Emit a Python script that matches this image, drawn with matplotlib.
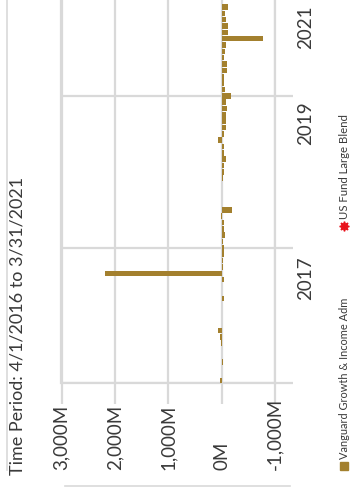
import numpy as np
import pandas as pd
import matplotlib
matplotlib.use("Agg")
import matplotlib.pyplot as plt
from matplotlib.lines import Line2D
from matplotlib.transforms import blended_transform_factory

# Monthly net flows, in millions of dollars (Apr 2016 .. Mar 2021)
months = pd.period_range("2016-04", "2021-03", freq="M")
flows_m = [
    30, -12, -6, -19, -12, -6, 19, 37, 65, -6,
    -6, -6, -6, -50, -12, -12, -37, 2190, -19, -19,
    -37, -37, -19, -56, -37, -37, 19, -187, -6, -6,
    -12, -12, -20, -37, -50, -75, -37, -37, 75, -50,
    -75, -75, -75, -94, -75, -175, -62, -50, -50, -94,
    -94, -37, -62, -75, -775, -112, -112, -75, -62, -112,
]

value_ticks = [3000, 2000, 1000, 0, -1000]
value_labels = ["3,000M", "2,000M", "1,000M", "0M", "-1,000M"]
year_labels = ["2017", "2019", "2021"]
grid_months = ["2018-01", "2020-01"]
title = "Time Period: 4/1/2016 to 3/31/2021"
series_name = "Vanguard Growth & Income Adm"
benchmark_name = "US Fund Large Blend"

W, H = 351, 487
BAR = "#A3802E"
GRID = "#D9D9D9"
TXT = "#3A3A3A"
FONT = "Lato"

plt.rcParams["font.family"] = [FONT, "DejaVu Sans"]


def fx(px):
    return px / W


def fy(py):
    return 1 - py / H


fig = plt.figure(figsize=(W / 100, H / 100), dpi=100)
fig.patch.set_facecolor("white")

# plot area (rotated layout: time runs upward, values run leftward)
ax = fig.add_axes([fx(61.5), fy(383), fx(275) - fx(61.5), fy(0) - fy(383)])
ypos = np.arange(len(months))
ax.barh(ypos, flows_m, height=0.88, color=BAR, zorder=3)

y_lo, y_hi = -0.3, 60.1
ax.set_xlim(3000, -1000)
ax.set_ylim(y_lo, y_hi)

# value gridlines with outward tick marks below the plot
ax.set_xticks(value_ticks)
ax.tick_params(axis="x", length=15, width=1.6, color=GRID, direction="out",
               labelbottom=False)
ax.grid(axis="x", color=GRID, lw=1.6, zorder=0)

# time gridlines with tick marks on the right
grid_pos = [months.get_loc(pd.Period(m, freq="M")) for m in grid_months]
ax.yaxis.tick_right()
ax.set_yticks([y_lo] + grid_pos)
ax.tick_params(axis="y", length=13, width=1.6, color=GRID, direction="out",
               labelright=False, labelleft=False)
ax.grid(axis="y", color=GRID, lw=1.6, zorder=0)

ax.spines["top"].set_visible(False)
for side in ("left", "right", "bottom"):
    ax.spines[side].set_color(GRID)
    ax.spines[side].set_linewidth(1.6)
    ax.spines[side].set_zorder(1)

# value labels, reading bottom to top
tr_x = blended_transform_factory(ax.transData, fig.transFigure)
for v, lab in zip(value_ticks, value_labels):
    ax.text(v, fy(470), lab, transform=tr_x, rotation=90, ha="center",
            va="bottom", fontsize=13.5, color=TXT)

# year labels on the right
tr_y = blended_transform_factory(fig.transFigure, ax.transData)
for pos, lab in zip([16.2, 40.7, 55.8], year_labels):
    ax.text(fx(306), pos, lab, transform=tr_y, rotation=90, ha="center",
            va="center", fontsize=13.5, color=TXT)

# title
fig.text(fx(18), fy(475), title, rotation=90, ha="center", va="bottom",
         fontsize=13, color=TXT)

# legend
fig.add_artist(Line2D([fx(344)], [fy(466)], marker="s", markersize=5.5,
                      color=BAR, linestyle="none"))
fig.text(fx(344.5), fy(459), series_name, rotation=90, ha="center",
         va="bottom", fontsize=7.9, color=TXT)
fig.add_artist(Line2D([fx(344)], [fy(226)], marker=(8, 1, 0), markersize=7,
                      color="#E8121B", linestyle="none"))
fig.text(fx(344.5), fy(219), benchmark_name, rotation=90, ha="center",
         va="bottom", fontsize=8.2, color=TXT)

# panel frame lines
fig.add_artist(Line2D([fx(7), fx(7)], [fy(0), fy(470)], color=GRID, lw=1.2))
fig.add_artist(Line2D([fx(65), fx(290)], [fy(486), fy(486)], color=GRID, lw=1.2))

fig.savefig("out.png", dpi=100, facecolor="white")
